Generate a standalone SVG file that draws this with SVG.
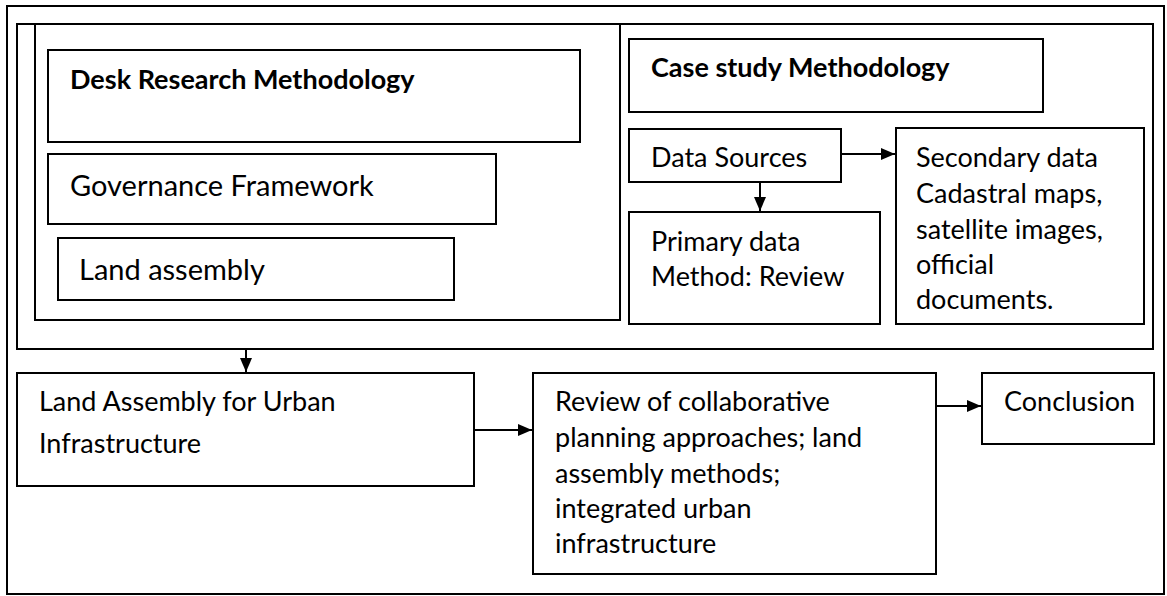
<svg xmlns="http://www.w3.org/2000/svg" width="1167" height="596" viewBox="0 0 1167 596">
<defs>
<marker id="ah" markerWidth="14" markerHeight="12" refX="14" refY="6" orient="auto" markerUnits="userSpaceOnUse">
<path d="M0,0 L14,6 L0,12 z" fill="#000"/>
</marker>
<style>
rect{fill:none;stroke:#000;stroke-width:2}
text{font-family:Lato,"Liberation Sans",sans-serif;font-size:29px;fill:#000}
.s{font-size:27px}
.b{font-weight:bold;font-size:27px}
.c{stroke:#000;stroke-width:2;fill:none;marker-end:url(#ah)}
</style>
</defs>
<rect x="0" y="0" width="1167" height="596" style="fill:#fff;stroke:none"/>
<g id="outer-frame"><rect x="7" y="6" width="1157" height="588"/></g>
<g id="upper-frame"><rect x="17" y="24" width="1136" height="325"/></g>
<g id="desk-frame"><rect x="35" y="24" width="585" height="296"/></g>
<g id="desk-research"><rect x="48" y="50" width="532" height="92"/><text class="b" x="70" y="89">Desk Research Methodology</text></g>
<g id="governance"><rect x="48" y="154" width="448" height="70"/><text x="70" y="196">Governance Framework</text></g>
<g id="land-assembly"><rect x="58" y="238" width="396" height="62"/><text x="79" y="280">Land assembly</text></g>
<g id="case-study"><rect x="629" y="39" width="414" height="73"/><text class="b" x="651" y="77">Case study Methodology</text></g>
<g id="data-sources"><rect x="629" y="129" width="212" height="53"/><text class="s" x="651" y="167">Data Sources</text></g>
<g id="secondary"><rect x="896" y="128" width="248" height="196"/>
<text class="s" x="916" y="167">Secondary data</text>
<text class="s" x="916" y="203">Cadastral maps,</text>
<text class="s" x="916" y="239">satellite images,</text>
<text class="s" x="916" y="274">official</text>
<text class="s" x="916" y="309">documents.</text></g>
<g id="primary"><rect x="629" y="212" width="251" height="112"/>
<text class="s" x="651" y="251">Primary data</text>
<text class="s" x="651" y="286">Method: Review</text></g>
<g id="land-urban"><rect x="17" y="373" width="457" height="113"/>
<text class="s" x="39" y="411">Land Assembly for Urban</text>
<text class="s" x="39" y="453">Infrastructure</text></g>
<g id="review"><rect x="533" y="373" width="403" height="201"/>
<text class="s" x="555" y="411">Review of collaborative</text>
<text class="s" x="555" y="447">planning approaches; land</text>
<text class="s" x="555" y="483">assembly methods;</text>
<text class="s" x="555" y="518">integrated urban</text>
<text class="s" x="555" y="553">infrastructure</text></g>
<g id="conclusion"><rect x="982" y="373" width="172" height="71"/><text class="s" x="1004" y="411">Conclusion</text></g>
<g id="connectors">
<line class="c" x1="841" y1="154" x2="895" y2="154"/>
<line class="c" x1="760" y1="182" x2="760" y2="211"/>
<line class="c" x1="246" y1="349" x2="246" y2="372"/>
<line class="c" x1="474" y1="430" x2="532" y2="430"/>
<line class="c" x1="936" y1="406" x2="981" y2="406"/>
</g>
</svg>
